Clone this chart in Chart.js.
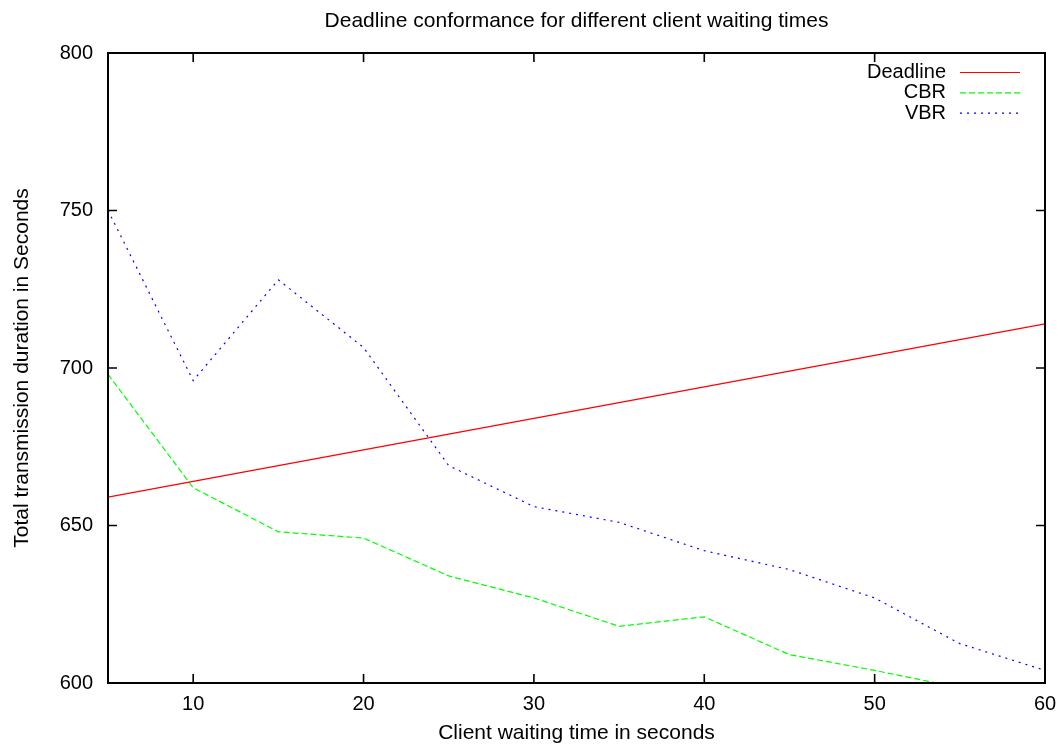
<!DOCTYPE html>
<html>
<head>
<meta charset="utf-8">
<title>Deadline conformance for different client waiting times</title>
<script src="https://cdn.jsdelivr.net/npm/chart.js@4/dist/chart.umd.min.js"></script>
<style>
  html, body { margin: 0; padding: 0; background: #ffffff; }
  #wrap { width: 1061px; height: 747px; position: relative; }
</style>
</head>
<body>
<div id="wrap"><canvas id="chart" width="1061" height="747"></canvas></div>
<script>
// Client waiting time (seconds) for each measurement
const waitTimes = [5, 10, 15, 20, 25, 30, 35, 40, 45, 50, 55, 60];

// Total transmission duration (seconds)
const deadline = [659, 664, 669, 674, 679, 684, 689, 694, 699, 704, 709, 714];
const cbr = [698, 662, 648, 646, 634, 627, 618, 621, 609, 604, 598.5];
const vbr = [750, 696, 728, 706.5, 669, 656, 651, 642, 636, 627, 612.5, 604];

// Axis tick labels
const xTicks = [10, 20, 30, 40, 50, 60];
const yTicks = [600, 650, 700, 750, 800];

const FONT = "'Liberation Sans', Arial, Helvetica, sans-serif";

function toPoints(values) {
  const pts = [];
  values.forEach((v, i) => { if (v !== null && v !== undefined) pts.push({ x: waitTimes[i], y: v }); });
  return pts;
}

// Frame with inward tick marks on all four sides
const framePlugin = {
  id: 'frame',
  afterDatasetsDraw(chart) {
    const { ctx, chartArea: a, scales } = chart;
    const len = 9;
    ctx.save();
    ctx.strokeStyle = '#000000';
    ctx.lineWidth = 1.6;
    ctx.beginPath();
    xTicks.forEach(v => {
      const px = scales.x.getPixelForValue(v);
      ctx.moveTo(px, a.bottom); ctx.lineTo(px, a.bottom - len);
      ctx.moveTo(px, a.top); ctx.lineTo(px, a.top + len);
    });
    yTicks.forEach(v => {
      const py = scales.y.getPixelForValue(v);
      ctx.moveTo(a.left, py); ctx.lineTo(a.left + len, py);
      ctx.moveTo(a.right, py); ctx.lineTo(a.right - len, py);
    });
    ctx.stroke();
    ctx.lineWidth = 2;
    ctx.strokeRect(a.left, a.top, a.right - a.left, a.bottom - a.top);
    ctx.restore();
  }
};

// Key in the upper right: label text right-aligned, line sample after it
const keyPlugin = {
  id: 'key',
  afterDraw(chart) {
    const { ctx, chartArea: a } = chart;
    const textRight = a.right - 99;
    const sampleStart = a.right - 85;
    const sampleEnd = a.right - 25;
    const firstRow = a.top + 19.5;
    const rowStep = 20.3;
    ctx.save();
    ctx.font = '20px ' + FONT;
    ctx.textAlign = 'right';
    ctx.textBaseline = 'middle';
    chart.data.datasets.forEach((ds, i) => {
      const y = firstRow + i * rowStep;
      ctx.fillStyle = '#000000';
      ctx.fillText(ds.label, textRight, y);
      ctx.strokeStyle = ds.borderColor;
      ctx.lineWidth = ds.borderWidth;
      ctx.setLineDash(ds.borderDash || []);
      ctx.beginPath();
      ctx.moveTo(sampleStart, y);
      ctx.lineTo(sampleEnd, y);
      ctx.stroke();
    });
    ctx.restore();
  }
};

new Chart(document.getElementById('chart'), {
  type: 'line',
  data: {
    datasets: [
      { label: 'Deadline', data: toPoints(deadline), borderColor: '#ff0000', borderWidth: 1.2, borderDash: [] },
      { label: 'CBR', data: toPoints(cbr), borderColor: '#00ff00', borderWidth: 1.2, borderDash: [6, 3] },
      { label: 'VBR', data: toPoints(vbr), borderColor: '#0000ff', borderWidth: 1.2, borderDash: [2, 5] }
    ]
  },
  options: {
    responsive: false,
    animation: false,
    events: [],
    layout: { padding: { left: 0, right: 16, top: 0, bottom: 0 } },
    elements: {
      point: { radius: 0 },
      line: { tension: 0, fill: false }
    },
    plugins: {
      legend: { display: false },
      tooltip: { enabled: false },
      title: {
        display: true,
        fullSize: false,
        text: 'Deadline conformance for different client waiting times',
        color: '#000000',
        font: { family: FONT, size: 21, weight: 'normal' },
        padding: { top: 8.4, bottom: 19.4 }
      }
    },
    scales: {
      x: {
        type: 'linear',
        min: 5,
        max: 60,
        grid: { display: false, drawTicks: false },
        border: { display: false },
        afterBuildTicks: s => { s.ticks = xTicks.map(v => ({ value: v })); },
        afterFit: s => { s.height = 64; s.paddingLeft = 0; s.paddingRight = 0; },
        ticks: {
          color: '#000000',
          padding: 9,
          maxRotation: 0,
          font: { family: FONT, size: 20 }
        },
        title: {
          display: true,
          text: 'Client waiting time in seconds',
          color: '#000000',
          font: { family: FONT, size: 21 },
          padding: { top: 0, bottom: 1.4 }
        }
      },
      y: {
        type: 'linear',
        min: 600,
        max: 800,
        grid: { display: false, drawTicks: false },
        border: { display: false },
        afterBuildTicks: s => { s.ticks = yTicks.map(v => ({ value: v })); },
        afterFit: s => { s.width = 108; },
        ticks: {
          color: '#000000',
          padding: 15,
          font: { family: FONT, size: 20 }
        },
        title: {
          display: true,
          text: 'Total transmission duration in Seconds',
          color: '#000000',
          font: { family: FONT, size: 21 },
          padding: { top: 9.4, bottom: 0 }
        }
      }
    }
  },
  plugins: [framePlugin, keyPlugin]
});
</script>
</body>
</html>
